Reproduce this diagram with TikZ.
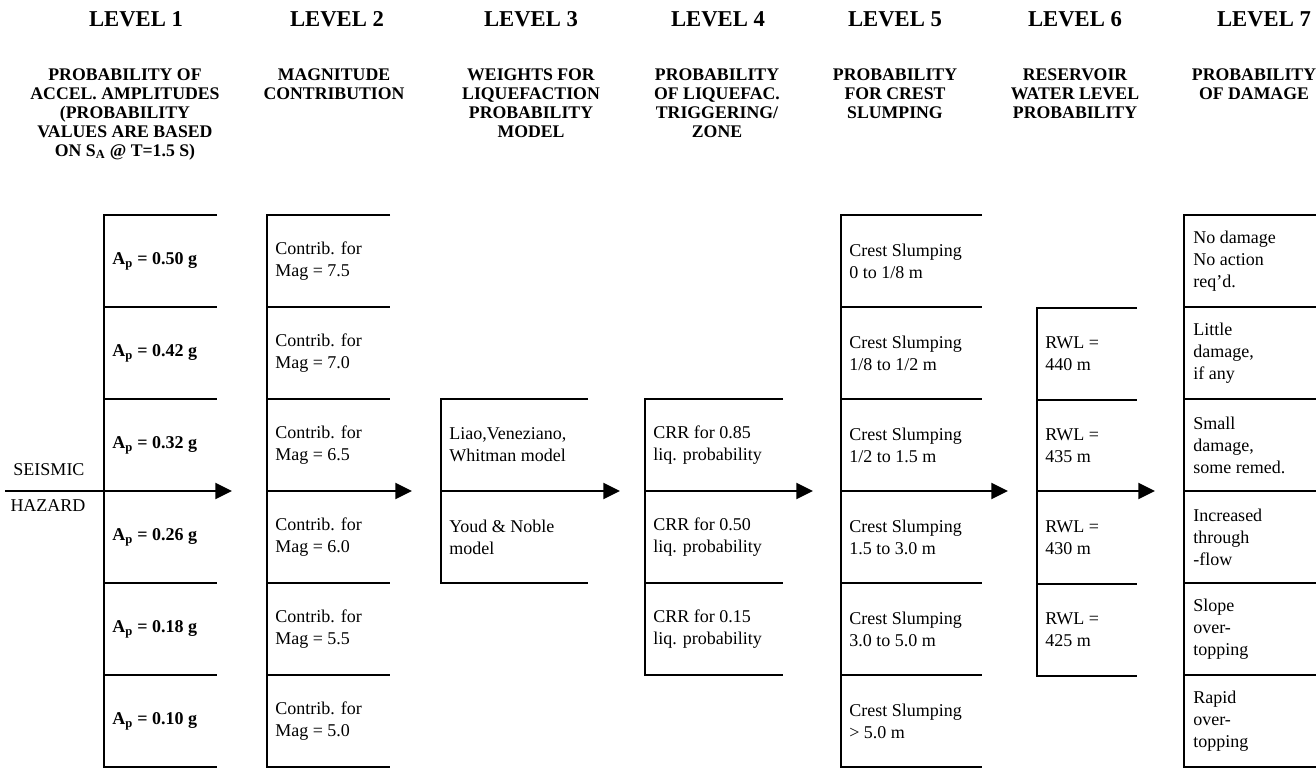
\documentclass[tikz,border=0pt]{standalone}
\usepackage{fontspec}
\setmainfont{Liberation Serif}
\usetikzlibrary{arrows.meta}
\begin{document}
\begin{tikzpicture}[x=0.75pt,y=-0.75pt,
  rule/.style={line width=1.5pt},
  cell/.style={anchor=west, align=left, inner sep=0pt, font=\fontsize{13.5}{16.5}\selectfont},
  cellb/.style={cell, font=\fontsize{13.5}{16.5}\selectfont\bfseries},
  lvl/.style={anchor=base, inner sep=0pt, font=\fontsize{17}{19}\selectfont\bfseries},
  sub/.style={anchor=north, align=center, inner sep=0pt, font=\fontsize{13.3}{14.25}\selectfont\bfseries},
  side/.style={inner sep=0pt, font=\fontsize{13.5}{16}\selectfont},
  flow/.style={line width=1.5pt, -{Triangle[length=12.5pt,width=12pt]}},
]
\useasboundingbox (0,0) rectangle (1316,770);

% ---------- headings ----------
\node[lvl] (h1) at (136,27) {LEVEL 1};
\node[lvl] (h2) at (337,27) {LEVEL 2};
\node[lvl] (h3) at (531,27) {LEVEL 3};
\node[lvl] (h4) at (718,27) {LEVEL 4};
\node[lvl] (h5) at (895,27) {LEVEL 5};
\node[lvl] (h6) at (1075,27) {LEVEL 6};
\node[lvl] (h7) at (1264,27) {LEVEL 7};

\node[sub] (s1) at (125,68) {PROBABILITY OF\\ACCEL. AMPLITUDES\\(PROBABILITY\\VALUES ARE BASED\\ON S\textsubscript{A} @ T=1.5 S)};
\node[sub] (s2) at (334,68) {MAGNITUDE\\CONTRIBUTION};
\node[sub] (s3) at (531,68) {WEIGHTS FOR\\LIQUEFACTION\\PROBABILITY\\MODEL};
\node[sub] (s4) at (717,68) {PROBABILITY\\OF LIQUEFAC.\\TRIGGERING/\\ZONE};
\node[sub] (s5) at (895,68) {PROBABILITY\\FOR CREST\\SLUMPING};
\node[sub] (s6) at (1075,68) {RESERVOIR\\WATER LEVEL\\PROBABILITY};
\node[sub] (s7) at (1254,68) {PROBABILITY\\OF DAMAGE};

% ---------- seismic hazard ----------
\node[side] (sh1) at (49,470) {SEISMIC};
\node[side] (sh2) at (48,506) {HAZARD};
\coordinate (start) at (5,491);

% ---------- level 1 ----------
\draw[rule] (217,215) -- (104,215) -- (104,767) -- (217,767);
\foreach \y in {307,399,583,675} \draw[rule] (104,\y) -- (217,\y);
\node[cellb] (c1a) at (112,261) {A\textsubscript{p} = 0.50 g};
\node[cellb] (c1b) at (112,353) {A\textsubscript{p} = 0.42 g};
\node[cellb] (c1c) at (112,445) {A\textsubscript{p} = 0.32 g};
\node[cellb] (c1d) at (112,537) {A\textsubscript{p} = 0.26 g};
\node[cellb] (c1e) at (112,629) {A\textsubscript{p} = 0.18 g};
\node[cellb] (c1f) at (112,721) {A\textsubscript{p} = 0.10 g};
\coordinate (t1) at (232,491);

% ---------- level 2 ----------
\draw[rule] (390,215) -- (267,215) -- (267,767) -- (390,767);
\foreach \y in {307,399,491,583,675} \draw[rule] (267,\y) -- (390,\y);
\node[cell] (c2a) at (275,261) {Contrib. for\\Mag = 7.5};
\node[cell] (c2b) at (275,353) {Contrib. for\\Mag = 7.0};
\node[cell] (c2c) at (275,445) {Contrib. for\\Mag = 6.5};
\node[cell] (c2d) at (275,537) {Contrib. for\\Mag = 6.0};
\node[cell] (c2e) at (275,629) {Contrib. for\\Mag = 5.5};
\node[cell] (c2f) at (275,721) {Contrib. for\\Mag = 5.0};
\coordinate (f2) at (390,491);
\coordinate (t2) at (412,491);

% ---------- level 3 ----------
\draw[rule] (588,399) -- (441,399) -- (441,583) -- (588,583);
\draw[rule] (441,491) -- (588,491);
\node[cell] (c3a) at (449,445) {Liao,Veneziano,\\Whitman model};
\node[cell] (c3b) at (449,537) {Youd \& Noble\\model};
\coordinate (f3) at (588,491);
\coordinate (t3) at (620,491);

% ---------- level 4 ----------
\draw[rule] (783,399) -- (645,399) -- (645,675) -- (783,675);
\foreach \y in {491,583} \draw[rule] (645,\y) -- (783,\y);
\node[cell] (c4a) at (653,445) {CRR for 0.85\\liq. probability};
\node[cell] (c4b) at (653,537) {CRR for 0.50\\liq. probability};
\node[cell] (c4c) at (653,629) {CRR for 0.15\\liq. probability};
\coordinate (f4) at (783,491);
\coordinate (t4) at (813,491);

% ---------- level 5 ----------
\draw[rule] (982,215) -- (841,215) -- (841,767) -- (982,767);
\foreach \y in {307,399,491,583,675} \draw[rule] (841,\y) -- (982,\y);
\node[cell] (c5a) at (849,261) {Crest Slumping\\0 to 1/8 m};
\node[cell] (c5b) at (849,353) {Crest Slumping\\1/8 to 1/2 m};
\node[cell] (c5c) at (849,445) {Crest Slumping\\1/2 to 1.5 m};
\node[cell] (c5d) at (849,537) {Crest Slumping\\1.5 to 3.0 m};
\node[cell] (c5e) at (849,629) {Crest Slumping\\3.0 to 5.0 m};
\node[cell] (c5f) at (849,721) {Crest Slumping\\> 5.0 m};
\coordinate (f5) at (982,491);
\coordinate (t5) at (1008,491);

% ---------- level 6 ----------
\draw[rule] (1137,308) -- (1037,308) -- (1037,676) -- (1137,676);
\foreach \y in {400,491,584} \draw[rule] (1037,\y) -- (1137,\y);
\node[cell] (c6a) at (1045,354) {RWL =\\440 m};
\node[cell] (c6b) at (1045,446) {RWL =\\435 m};
\node[cell] (c6c) at (1045,538) {RWL =\\430 m};
\node[cell] (c6d) at (1045,630) {RWL =\\425 m};
\coordinate (f6) at (1137,491);
\coordinate (t6) at (1155,491);

% ---------- level 7 ----------
\draw[rule] (1316,215) -- (1184,215) -- (1184,767) -- (1316,767);
\foreach \y in {307,399,491,583,675} \draw[rule] (1184,\y) -- (1316,\y);
\node[cell] (c7a) at (1193,261) {No damage\\No action\\req’d.};
\node[cell] (c7b) at (1193,353) {Little\\damage,\\if any};
\node[cell] (c7c) at (1193,445) {Small\\damage,\\some remed.};
\node[cell] (c7d) at (1193,537) {Increased\\through\\-flow};
\node[cell] (c7e) at (1193,629) {Slope\\over-\\topping};
\node[cell] (c7f) at (1193,721) {Rapid\\over-\\topping};

% ---------- flow arrows ----------
\draw[flow] (start) -- (t1);
\draw[flow] (f2) -- (t2);
\draw[flow] (f3) -- (t3);
\draw[flow] (f4) -- (t4);
\draw[flow] (f5) -- (t5);
\draw[flow] (f6) -- (t6);
\end{tikzpicture}
\end{document}
